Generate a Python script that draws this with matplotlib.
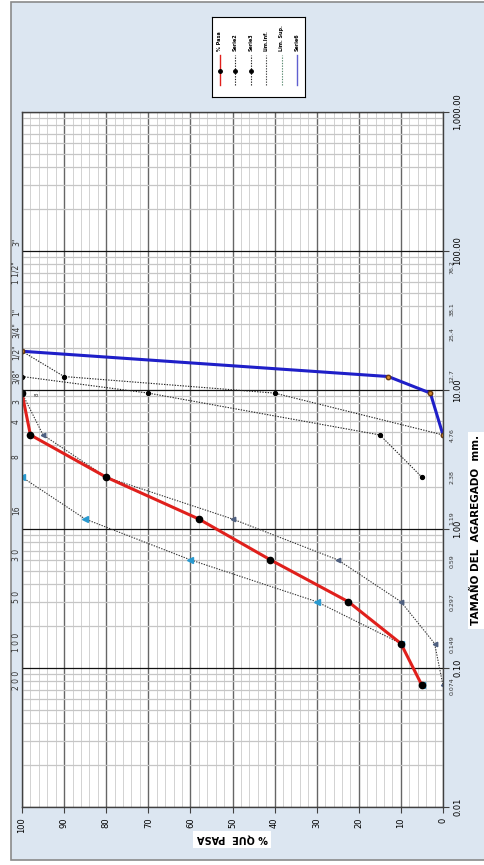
import numpy as np
import matplotlib.pyplot as plt
import matplotlib.transforms as mtransforms
from matplotlib.patches import Rectangle
from matplotlib.ticker import FixedLocator, LogLocator, NullFormatter

# --- datos (abertura de malla en mm, % que pasa) ---
malla_fino = [9.5, 4.75, 2.36, 1.18, 0.6, 0.3, 0.15, 0.075]
pasa_fino = [100, 98, 80, 58, 41, 22.5, 10, 5]

malla_inf_fino = [9.5, 4.75, 2.36, 1.18, 0.6, 0.3, 0.15, 0.075]
lim_inf_fino = [100, 95, 80, 50, 25, 10, 2, 0]

malla_sup_fino = [2.36, 1.18, 0.6, 0.3, 0.15, 0.075]
lim_sup_fino = [100, 85, 60, 30, 10, 5]

malla_grueso = [19.0, 12.5, 9.5, 4.75]
pasa_grueso = [100, 13, 3, 0]

malla_inf_grueso = [19.0, 12.5, 9.5, 4.75]
lim_inf_grueso = [100, 90, 40, 0]

malla_sup_grueso = [12.5, 9.5, 4.75, 2.36]
lim_sup_grueso = [100, 70, 15, 5]

# rotulos de tamices (franja izquierda) y su posicion en mm
tamiz_txt = ['3"', '1 1/2"', '1"', '3/4"', '1/2"', '3/8"', '3', '4', '8', '16',
             '3 0', '5 0', '1 0 0', '2 0 0']
tamiz_pos = [116, 69.5, 36.4, 27, 18.8, 12.6, 8.2, 5.9, 3.3, 1.37, 0.65, 0.324, 0.154, 0.082]

# aberturas escritas junto al eje derecho
abertura_txt = ['76.2', '38.1', '25.4', '12.7', '4.76', '2.38', '1.19', '0.59', '0.297', '0.149', '0.074']
abertura_val = [76.2, 38.1, 25.4, 12.7, 4.76, 2.38, 1.19, 0.59, 0.297, 0.149, 0.074]

y_ticks = [0.01, 0.1, 1, 10, 100, 1000]
y_labels = ['0.01', '0.10', '1.00', '10.00', '100.00', '1,000.00']

W, H = 485, 865
fig = plt.figure(figsize=(W / 100, H / 100), dpi=100)
fig.patch.set_facecolor('white')

# panel de fondo
fig.patches.append(Rectangle((11 / W, 1 - 860 / H), 1 - 11 / W + 0.01, 858 / H,
                             transform=fig.transFigure, facecolor='#dce6f1',
                             edgecolor='#8a8a8a', lw=1.2, zorder=-10))

ax = fig.add_axes([22 / W, 1 - 807 / H, 421 / W, 695 / H])
ax.set_facecolor('white')
ax.set_yscale('log')
ax.set_xlim(100, 0)
ax.set_ylim(0.01, 1000)

ax.set_xticks(np.arange(0, 101, 10))
ax.set_xticks(np.arange(0, 101, 2), minor=True)
ax.yaxis.set_major_locator(FixedLocator(y_ticks))
ax.yaxis.set_minor_locator(LogLocator(base=10, subs=np.arange(2, 10), numticks=20))
ax.yaxis.set_minor_formatter(NullFormatter())
ax.set_yticklabels(y_labels)
ax.yaxis.tick_right()

ax.grid(which='minor', axis='x', color='#d2d2d2', lw=0.7)
ax.grid(which='major', axis='x', color='#666666', lw=1.0)
ax.grid(which='minor', axis='y', color='#c6c6c6', lw=0.9)
ax.grid(which='major', axis='y', color='#111111', lw=0.9)
ax.set_axisbelow(True)

ax.tick_params(axis='x', which='major', length=4, labelsize=6, labelrotation=90, color='#404040')
ax.tick_params(axis='y', which='major', length=4, labelsize=6, labelrotation=90, color='#404040')
ax.tick_params(which='minor', length=0)
for lab in ax.get_yticklabels():
    lab.set_va('center')
for s in ax.spines.values():
    s.set_color('#404040')
    s.set_linewidth(1.0)

# series
st_pasa = dict(color='#e0201c', lw=2.2, marker='o', ms=4.5, mfc='black', mec='black')
st_lim_gr = dict(color='#222222', lw=0.8, ls=(0, (1.2, 1.2)), marker='o', ms=2.8, mfc='black', mec='black')
st_inf_fi = dict(color='#333333', lw=0.8, ls=(0, (1.2, 1.2)), marker='<', ms=3.2, mfc='#4f6080', mec='#4f6080')
st_sup_fi = dict(color='#333333', lw=0.8, ls=(0, (1.2, 1.2)), marker='<', ms=5, mfc='#2a9ad0', mec='#2a9ad0')
st_grueso = dict(color='#1f1fc8', lw=2.2, marker='o', ms=3.2, mfc='#d4892f', mec='#6a3a10')

ax.plot(lim_inf_grueso, malla_inf_grueso, **st_lim_gr)
ax.plot(lim_sup_grueso, malla_sup_grueso, **st_lim_gr)
ax.plot(lim_inf_fino, malla_inf_fino, **st_inf_fi)
ax.plot(lim_sup_fino, malla_sup_fino, **st_sup_fi)
ax.plot(pasa_fino, malla_fino, **st_pasa)
ax.plot(pasa_grueso, malla_grueso, **st_grueso)

ax.text(96.3, 9.6, '8 ,', rotation=90, fontsize=4, ha='center', va='center', color='#333333')

# rotulos de tamices a la izquierda
tr_left = mtransforms.blended_transform_factory(fig.transFigure, ax.transData)
for t, p in zip(tamiz_txt, tamiz_pos):
    fig.text(16.5 / W, p, t, transform=tr_left, rotation=90, fontsize=5.5,
             ha='center', va='center', color='#333333')

# aberturas junto al eje derecho
tr_right = mtransforms.blended_transform_factory(ax.transAxes, ax.transData)
for t, v in zip(abertura_txt, abertura_val):
    ax.text(1.022, v, t, transform=tr_right, rotation=90, fontsize=4.5,
            ha='center', va='center', color='#333333', clip_on=False)

# titulos de ejes
fig.text(232 / W, 1 - 839 / H, '% QUE  PASA', rotation=180, fontsize=7, fontweight='bold',
         ha='center', va='center', bbox=dict(facecolor='white', edgecolor='none', pad=2.5))
fig.text(476 / W, 1 - 530 / H, 'TAMAÑO DEL  AGAREGADO  mm.', rotation=90, fontsize=7.5,
         fontweight='bold', ha='center', va='center',
         bbox=dict(facecolor='white', edgecolor='none', pad=2.5))

# leyenda (rotada como el grafico)
ley_nombres = ['% Pasa', 'Serie2', 'Serie3', 'Lim.Inf.', 'Lim. Sup.', 'Serie6']
ley_estilos = [st_pasa, st_lim_gr, st_lim_gr,
               dict(color='#444444', lw=0.8, ls=(0, (1.2, 1.2))),
               dict(color='#5a8a70', lw=0.8, ls=(0, (1.2, 1.2))),
               dict(color='#6060d0', lw=1.4)]
lax = fig.add_axes([212 / W, 1 - 97 / H, 93 / W, 80 / H])
lax.set_xlim(0, 6)
lax.set_ylim(0, 1)
lax.set_xticks([])
lax.set_yticks([])
for s in lax.spines.values():
    s.set_color('black')
    s.set_linewidth(0.8)
for i, (n, st) in enumerate(zip(ley_nombres, ley_estilos)):
    st2 = dict(st)
    st2['lw'] = min(st2.get('lw', 1), 1.0)
    st2['ms'] = min(st2.get('ms', 0), 2.5)
    mk = st2.pop('marker', None)
    lax.plot([i + 0.5, i + 0.5], [0.15, 0.52], **{k: v for k, v in st2.items() if k not in ('mfc', 'mec', 'ms')})
    if mk:
        lax.plot([i + 0.5], [0.33], marker=mk, ms=st2['ms'], mfc=st2['mfc'], mec=st2['mec'], ls='none')
    lax.text(i + 0.5, 0.58, n, rotation=90, fontsize=3.5, fontweight='bold', ha='center', va='bottom')

fig.savefig('out.png', dpi=100)
